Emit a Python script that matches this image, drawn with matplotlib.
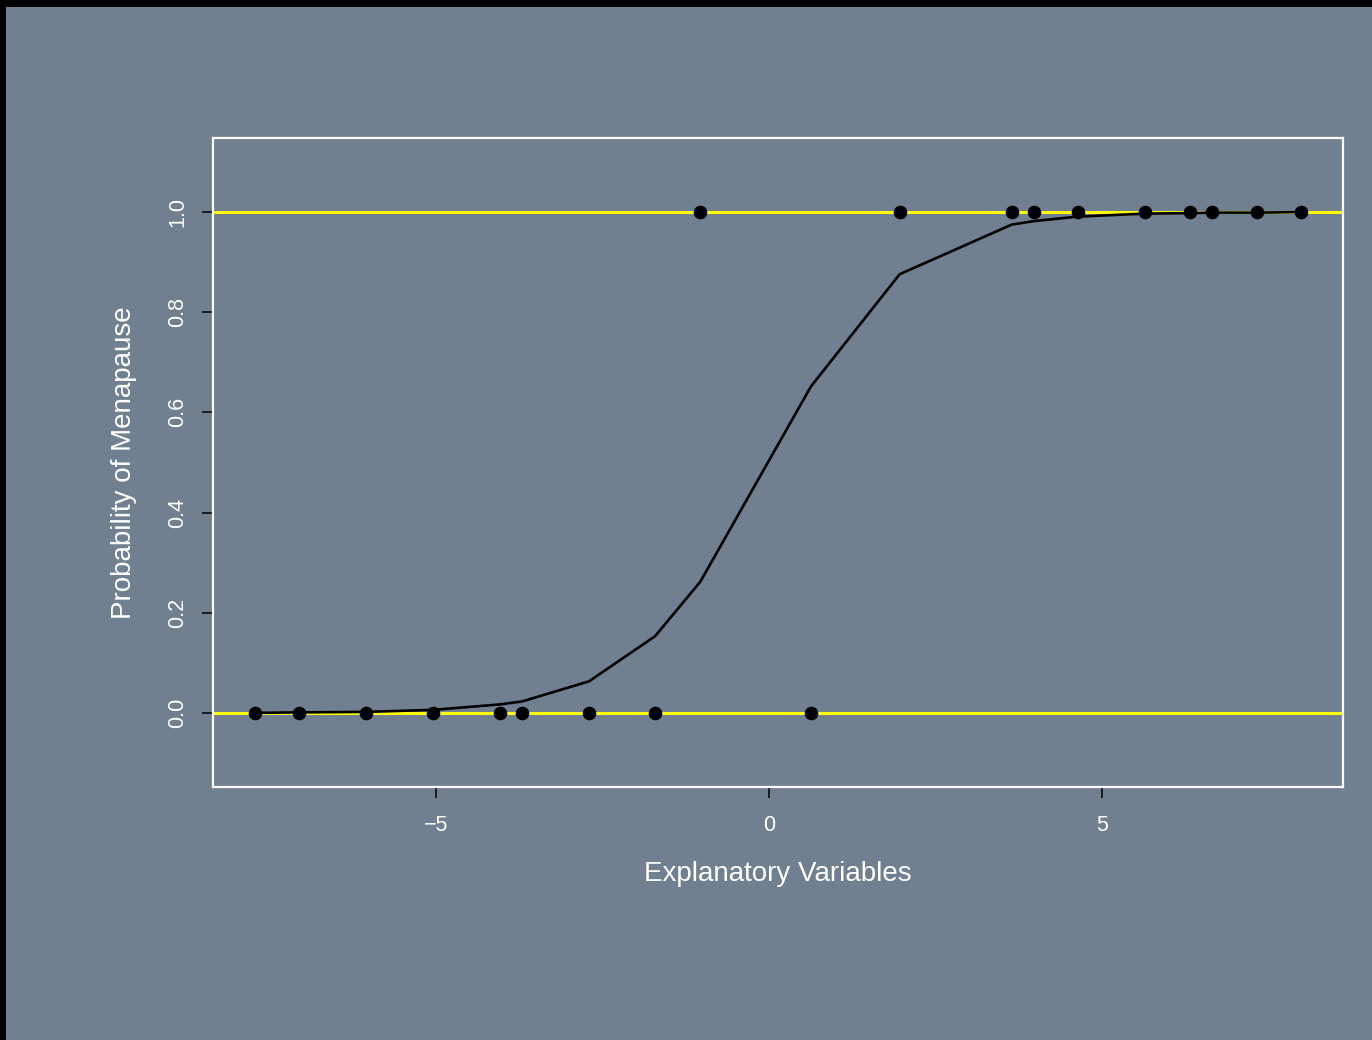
import numpy as np
import matplotlib.pyplot as plt
from matplotlib.patches import Rectangle

plt.rcParams['font.family'] = ['Liberation Sans', 'DejaVu Sans']

# observations (explanatory value, outcome)
x_obs = [-7.71, -7.05, -6.04, -5.04, -4.03, -3.70, -2.70, -1.71, -1.03,
         0.63, 1.96, 3.64, 3.97, 4.63, 5.64, 6.31, 6.64, 7.32, 7.98]
y_obs = [0, 0, 0, 0, 0, 0, 0, 0, 1,
         0, 1, 1, 1, 1, 1, 1, 1, 1, 1]
# fitted probabilities at each observation
p_fit = [0.000, 0.001, 0.002, 0.006, 0.017, 0.023, 0.063, 0.153, 0.262,
         0.652, 0.876, 0.975, 0.982, 0.991, 0.997, 0.998, 0.999, 0.999, 1.000]

bg = '#708090'

fig = plt.figure(figsize=(13.72, 10.40), dpi=100, facecolor='black')
fig.add_artist(Rectangle((6 / 1372, 0), 1, 1033 / 1040, transform=fig.transFigure,
                         facecolor=bg, edgecolor='none', zorder=-10))

ax = fig.add_axes([213 / 1372, 1 - 787 / 1040, 1130 / 1372, 649 / 1040])
ax.set_facecolor(bg)

ax.axhline(0, color='yellow', lw=2.2, zorder=1)
ax.axhline(1, color='yellow', lw=2.2, zorder=1)

order = np.argsort(x_obs)
ax.plot(np.array(x_obs)[order], np.array(p_fit)[order], color='black', lw=1.9, zorder=2)
ax.plot(x_obs, y_obs, 'o', color='black', ms=8.8, zorder=3)

ax.set_xlim(-8.34, 8.61)
ax.set_ylim(-0.148, 1.148)
ax.set_xticks([-5, 0, 5])
ax.set_xticklabels(['\u22125', '0', '5'])
ax.set_yticks([0, 0.2, 0.4, 0.6, 0.8, 1.0])
ax.set_yticklabels(['0.0', '0.2', '0.4', '0.6', '0.8', '1.0'], rotation=90, va='center')

for s in ax.spines.values():
    s.set_color('white')
    s.set_linewidth(1.6)

ax.tick_params(axis='both', colors='black', labelcolor='white', length=8, width=1.1,
               labelsize=15.5)
ax.tick_params(axis='x', pad=12)
ax.tick_params(axis='y', pad=10)

ax.set_xlabel('Explanatory Variables', color='white', fontsize=20, va='center')
ax.xaxis.set_label_coords(0.5, -(874 - 787) / 649)
ax.set_ylabel('Probability of Menapause', color='white', fontsize=20, va='center')
ax.yaxis.set_label_coords(-(213 - 124) / 1130, 0.5)

fig.savefig('out.png', dpi=100, facecolor=fig.get_facecolor())
